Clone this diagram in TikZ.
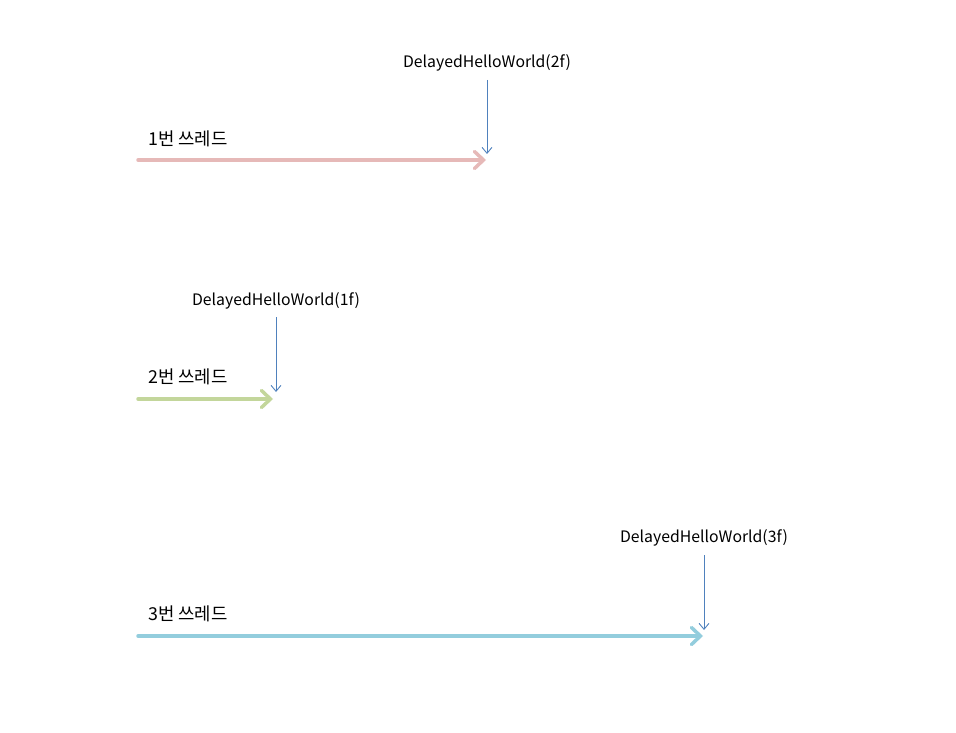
\documentclass[tikz,border=0pt]{standalone}
\usepackage{fontspec}
\setmainfont{Noto Sans CJK KR}
\usetikzlibrary{arrows.meta}
\definecolor{pinkc}{HTML}{E6B9B8}
\definecolor{greenc}{HTML}{C3D69B}
\definecolor{bluec}{HTML}{93CDDD}
\definecolor{callc}{HTML}{4F81BD}
\begin{document}
\begin{tikzpicture}[x=1pt,y=-1pt,
  thread/.style={line width=3.5pt,-{Straight Barb[length=9pt,width=17pt,line cap=round]},line cap=round},
  call/.style={callc,line width=0.9pt,-{Straight Barb[length=6pt,width=10pt]}},
  lbl/.style={font=\fontsize{15.8}{18}\selectfont,inner sep=0pt,text=black},
  tname/.style={font=\fontsize{17.8}{20}\selectfont,inner sep=0pt,anchor=west,text=black}]
\useasboundingbox (0,0) rectangle (956,733);
% thread 1
\coordinate (s1) at (138,160);
\coordinate (e1) at (486,160);
\node[tname] (t1) at (148,139) {1번 쓰레드};
\node[lbl] (f1) at (487,63) {DelayedHelloWorld(2f)};
\coordinate (c1s) at (487,80);
\coordinate (c1e) at (487,154);
\draw[thread,pinkc] (s1) -- (e1);
\draw[call] (c1s) -- (c1e);
% thread 2
\coordinate (s2) at (138,399);
\coordinate (e2) at (273,399);
\node[tname] (t2) at (148,377) {2번 쓰레드};
\node[lbl] (f2) at (276,301) {DelayedHelloWorld(1f)};
\coordinate (c2s) at (276,317);
\coordinate (c2e) at (276,392);
\draw[thread,greenc] (s2) -- (e2);
\draw[call] (c2s) -- (c2e);
% thread 3
\coordinate (s3) at (138,636);
\coordinate (e3) at (703,636);
\node[tname] (t3) at (148,614) {3번 쓰레드};
\node[lbl] (f3) at (704,538) {DelayedHelloWorld(3f)};
\coordinate (c3s) at (704,555);
\coordinate (c3e) at (704,630);
\draw[thread,bluec] (s3) -- (e3);
\draw[call] (c3s) -- (c3e);
\end{tikzpicture}
\end{document}
